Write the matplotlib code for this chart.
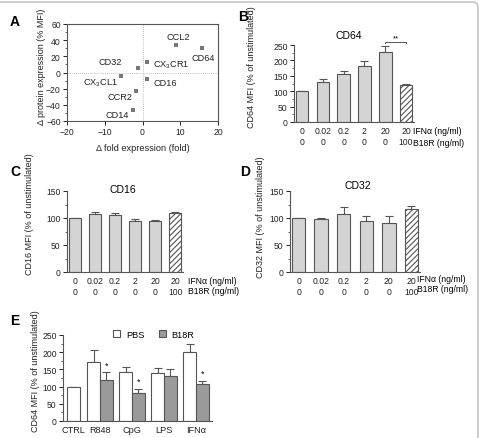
import numpy as np
import matplotlib
matplotlib.use("Agg")
import matplotlib.pyplot as plt
from matplotlib.patches import FancyBboxPatch
from matplotlib.ticker import MultipleLocator

plt.rcParams['font.family'] = ['Liberation Sans', 'DejaVu Sans']
plt.rcParams['mathtext.default'] = 'regular'
plt.rcParams['hatch.linewidth'] = 0.8
plt.rcParams['hatch.color'] = '#333333'

# ---- data ----
# panel A: fold change vs protein change
genes = ['CCL2', 'CD64', 'CX$_3$CR1', 'CD32', 'CD16', 'CX$_3$CL1', 'CCR2', 'CD14']
fold = [8.9, 15.7, 1.1, -1.1, 1.1, -5.7, -1.6, -2.6]
prot = [34, 30, 12.5, 5, -8, -4.7, -22.5, -47]
lab_dx = [0.5, 0.3, 1.7, -4.3, 1.7, -0.8, -1.0, -1.0]
lab_dy = [11, -11, -2, 8, -4, -7, -7.5, -5]
lab_ha = ['center', 'center', 'left', 'right', 'left', 'right', 'right', 'right']

ifn_doses = ['0', '0.02', '0.2', '2', '20', '20']
b18r_doses = ['0', '0', '0', '0', '0', '100']

cd64_mean = [100, 130, 155, 181, 226, 120]
cd64_err = [1, 10, 12, 18, 20, 3]
cd16_mean = [100, 107, 106, 95, 95, 109]
cd16_err = [0.5, 5, 4, 4, 2, 3]
cd32_mean = [100, 98, 108, 95, 91, 116]
cd32_err = [0.5, 2, 12, 8, 12, 7]

stimuli = ['CTRL', 'R848', 'CpG', 'LPS', 'IFN\u03b1']
pbs_mean = [100, 171, 143, 139, 200]
pbs_err = [0, 36, 14, 16, 23]
b18r_mean = [np.nan, 119, 82, 130, 107]
b18r_err = [0, 23, 12, 21, 10]
b18r_sig = ['', '*', '*', '', '*']

W, H = 481, 439
fig = plt.figure(figsize=(W / 100, H / 100), dpi=100)

EDGE = '#555555'
LIGHT = '#d4d4d4'
DARK = '#9a9a9a'
TXT = '#222222'
TFS = 6.2


def px_axes(l, t, r, b):
    return fig.add_axes([l / W, 1 - b / H, (r - l) / W, (b - t) / H])


def ftext(x, y, s, **kw):
    fig.text(x / W, 1 - y / H, s, **kw)


def style(ax, full=False):
    for sp in ax.spines.values():
        sp.set_color(EDGE)
        sp.set_linewidth(0.8)
    if not full:
        ax.spines['top'].set_visible(False)
        ax.spines['right'].set_visible(False)
    ax.tick_params(colors=TXT, labelsize=TFS, length=3, width=0.7, pad=1.5)
    ax.tick_params(which='minor', length=1.8, width=0.6, color=EDGE)
    ax.set_facecolor('none')


def set_ylab(ax, text, box, px, py):
    l, t, r, b = box
    ax.set_ylabel(text, fontsize=6.5, color=TXT)
    ax.yaxis.set_label_coords((px - l) / (r - l), (b - py) / (b - t))


def dose_panel(box, mean, err, title, title_xy, ymax, ystep, lab_x, rows_y, ylab_xy):
    l, t, r, b = box
    ax = px_axes(l, t, r, b)
    style(ax)
    x = np.arange(len(mean))
    cols = [LIGHT] * (len(mean) - 1) + ['white']
    hatches = [''] * (len(mean) - 1) + ['//////']
    bars = ax.bar(x, mean, width=0.6, color=cols, edgecolor=EDGE, linewidth=0.8, zorder=2)
    for bar, h in zip(bars, hatches):
        bar.set_hatch(h)
    ax.errorbar(x, mean, yerr=[np.zeros(len(err)), err], fmt='none', ecolor=EDGE,
                elinewidth=0.8, capsize=3, capthick=0.8, zorder=1)
    ax.set_xlim(-0.38, len(mean) - 0.62)
    ax.set_ylim(0, ymax)
    ax.yaxis.set_major_locator(MultipleLocator(ystep))
    ax.yaxis.set_minor_locator(MultipleLocator(ystep / 2))
    ax.set_xticks(x)
    ax.set_xticklabels([f'{a}\n{c}' for a, c in zip(ifn_doses, b18r_doses)],
                       fontsize=TFS, linespacing=1.3)
    ax.tick_params(axis='x', length=0, pad=3)
    ftext(title_xy[0], title_xy[1], title, fontsize=7.5, ha='center', va='center')
    ftext(lab_x, rows_y[0], 'IFN\u03b1 (ng/ml)', fontsize=TFS, va='center')
    ftext(lab_x, rows_y[1], 'B18R (ng/ml)', fontsize=TFS, va='center')
    set_ylab(ax, f'{title} MFI (% of unstimulated)', box, *ylab_xy)
    return ax


# ---- panel A ----
boxA = (67, 25, 218, 122)
axA = px_axes(*boxA)
style(axA, full=True)
axA.axhline(0, color='#aaaaaa', lw=0.6, ls=(0, (1, 1.5)), zorder=0)
axA.axvline(0, color='#aaaaaa', lw=0.6, ls=(0, (1, 1.5)), zorder=0)
axA.scatter(fold, prot, marker='s', s=5, color='#777777', zorder=3, linewidths=0)
for g, fx, py, dx, dy, ha in zip(genes, fold, prot, lab_dx, lab_dy, lab_ha):
    axA.text(fx + dx, py + dy, g, fontsize=6.6, ha=ha, va='center', color=TXT)
axA.set_xlim(-20, 20)
axA.set_ylim(-60, 60)
axA.xaxis.set_major_locator(MultipleLocator(10))
axA.yaxis.set_major_locator(MultipleLocator(20))
axA.yaxis.set_minor_locator(MultipleLocator(10))
axA.set_xlabel('\u0394 fold expression (fold)', fontsize=6.6, color=TXT, labelpad=5)
set_ylab(axA, '\u0394 protein expression (% MFI)', boxA, 46, 67)

# ---- panels B, C, D ----
axB = dose_panel((294, 46, 414, 123), cd64_mean, cd64_err, 'CD64', (349, 36), 250, 50,
                 413, (132, 143), (256, 67))
# significance bracket between last two bars
top = cd64_mean[-2] + cd64_err[-2] + 14
axB.plot([4, 4, 5, 5], [top - 5, top, top, top - 5], color=EDGE, lw=0.7, clip_on=False)
axB.text(4.5, top + 1, '**', ha='center', va='bottom', fontsize=5.5)

dose_panel((67, 192, 183, 273), cd16_mean, cd16_err, 'CD16', (123, 190), 150, 50,
           188, (281, 291), (34, 214))
dose_panel((290, 192, 420, 273), cd32_mean, cd32_err, 'CD32', (358, 186), 150, 50,
           417, (280, 290), (265, 217))

# ---- panel E ----
boxE = (63, 336, 212, 422)
axE = px_axes(*boxE)
style(axE)
pos = np.arange(len(stimuli), dtype=float)
pbs_x = pos - 0.2
pbs_x[0] = 0.16
w = 0.4
axE.bar(pbs_x, pbs_mean, width=w, color='white', edgecolor=EDGE, linewidth=0.8,
        label='PBS', zorder=2)
axE.bar(pos + 0.2, b18r_mean, width=w, color=DARK, edgecolor=EDGE, linewidth=0.8,
        label='B18R', zorder=2)
axE.errorbar(pbs_x, pbs_mean, yerr=[np.zeros(5), pbs_err], fmt='none', ecolor=EDGE,
             elinewidth=0.8, capsize=3, capthick=0.8, zorder=1)
axE.errorbar(pos + 0.2, b18r_mean, yerr=[np.zeros(5), b18r_err], fmt='none', ecolor=EDGE,
             elinewidth=0.8, capsize=3, capthick=0.8, zorder=1)
for xi, m, e, s in zip(pos + 0.2, b18r_mean, b18r_err, b18r_sig):
    if s:
        axE.text(xi, m + e + 8, s, ha='center', va='bottom', fontsize=6.5)
axE.set_xlim(-0.16, 4.5)
axE.set_ylim(0, 250)
axE.yaxis.set_major_locator(MultipleLocator(50))
axE.yaxis.set_minor_locator(MultipleLocator(25))
xt = pos.copy()
xt[0] = pbs_x[0]
axE.set_xticks(xt)
axE.set_xticklabels(stimuli, fontsize=6.6)
axE.tick_params(axis='x', length=0, pad=3)
set_ylab(axE, 'CD64 MFI (% of unstimulated)', boxE, 40, 371)
axE.legend(loc='center left', bbox_to_anchor=((113 - 63) / 149, (422 - 335) / 86), ncol=2,
           frameon=False, fontsize=6.6, handlelength=0.8, handleheight=0.8,
           handletextpad=0.6, columnspacing=1.6, borderpad=0, borderaxespad=0)

# ---- panel letters ----
for letter, (x, y) in zip('ABCDE', [(15, 22), (243, 17), (15, 172), (245, 172), (15, 321)]):
    ftext(x, y, letter, fontsize=10, fontweight='bold', ha='center', va='center')

# outer frame
frame = FancyBboxPatch((-6 / W, -20 / H), 484 / W, 456 / H,
                       boxstyle='round,pad=0,rounding_size=0.012',
                       transform=fig.transFigure, fill=False, ec='#bbbbbb', lw=1.0)
fig.patches.append(frame)

fig.savefig('out.png', dpi=100)
